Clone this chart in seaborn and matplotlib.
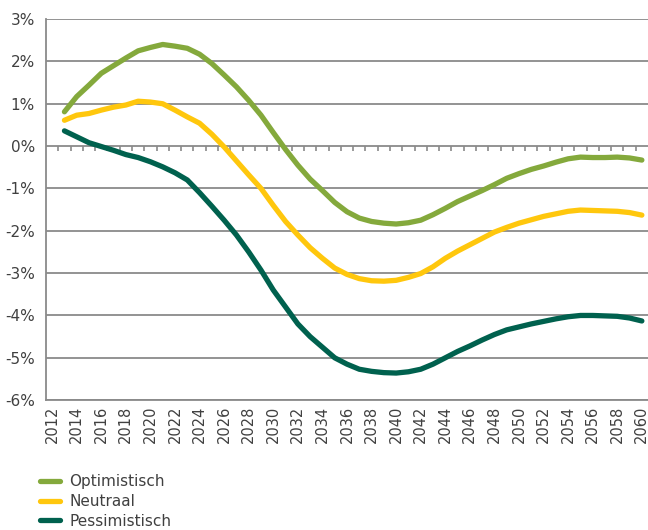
import numpy as np
import pandas as pd
import matplotlib
matplotlib.use("Agg")
import matplotlib.pyplot as plt
import seaborn as sns

years = list(range(2013, 2061))

optimistisch = [0.81, 1.17, 1.44, 1.72, 1.90, 2.08, 2.25, 2.33, 2.40, 2.36,
                2.31, 2.17, 1.95, 1.68, 1.40, 1.08, 0.73, 0.32, -0.08, -0.45,
                -0.78, -1.05, -1.33, -1.55, -1.70, -1.78, -1.82, -1.84, -1.81, -1.75,
                -1.62, -1.47, -1.31, -1.18, -1.05, -0.91, -0.76, -0.65, -0.55, -0.47,
                -0.38, -0.30, -0.26, -0.27, -0.27, -0.26, -0.28, -0.33]

neutraal = [0.61, 0.73, 0.77, 0.85, 0.92, 0.97, 1.06, 1.04, 1.00, 0.85,
            0.69, 0.54, 0.28, -0.02, -0.35, -0.68, -1.00, -1.40, -1.78, -2.10,
            -2.40, -2.65, -2.88, -3.03, -3.13, -3.18, -3.19, -3.17, -3.10, -3.01,
            -2.85, -2.65, -2.48, -2.33, -2.18, -2.03, -1.92, -1.82, -1.74, -1.66,
            -1.60, -1.54, -1.51, -1.52, -1.53, -1.54, -1.57, -1.63]

pessimistisch = [0.36, 0.22, 0.08, -0.01, -0.10, -0.20, -0.27, -0.37, -0.49, -0.63,
                 -0.80, -1.10, -1.42, -1.75, -2.10, -2.50, -2.93, -3.40, -3.80, -4.20,
                 -4.50, -4.75, -5.00, -5.15, -5.27, -5.32, -5.35, -5.36, -5.33, -5.27,
                 -5.15, -5.00, -4.85, -4.72, -4.58, -4.45, -4.34, -4.27, -4.20, -4.14,
                 -4.08, -4.03, -4.00, -4.00, -4.01, -4.02, -4.06, -4.13]

scenarios = ["Optimistisch", "Neutraal", "Pessimistisch"]
colors = ["#84A93C", "#FFC70D", "#00614E"]

df = pd.DataFrame({
    "jaar": years * 3,
    "waarde": optimistisch + neutraal + pessimistisch,
    "scenario": [s for s in scenarios for _ in years],
})

sns.set_style("white")
plt.rcParams["font.family"] = ["Liberation Sans Narrow", "DejaVu Sans"]
text_col = "#404040"
grid_col = "#8a8a8a"

fig = plt.figure(figsize=(6.48, 5.30), dpi=100)
ax = fig.add_axes([0.071, 0.245, 0.929, 0.719])

sns.lineplot(data=df, x="jaar", y="waarde", hue="scenario", palette=colors,
             hue_order=scenarios, linewidth=3.8, ax=ax, legend=True)

ax.set_xlim(2011.5, 2060.5)
ax.set_ylim(-6, 3)
ax.set_yticks(range(-6, 4))
ax.set_yticklabels([f"{v}%" for v in range(-6, 4)], fontsize=11, color=text_col)
ax.set_xticks(range(2012, 2061, 2))
ax.set_xticklabels([str(y) for y in range(2012, 2061, 2)], rotation=90,
                   fontsize=10.5, color=text_col)
ax.tick_params(axis="x", length=0, pad=4)
ax.tick_params(axis="y", length=5, width=1.3, color=grid_col, pad=3)
ax.set_xlabel("")
ax.set_ylabel("")
ax.yaxis.grid(True, color=grid_col, linewidth=1.3)
ax.set_axisbelow(True)
for side in ["top", "right"]:
    ax.spines[side].set_visible(False)
for side in ["left", "bottom"]:
    ax.spines[side].set_color(grid_col)
    ax.spines[side].set_linewidth(1.3)

# kleine streepjes onder de 0%-lijn
sec = ax.secondary_xaxis(6 / 9)
sec.set_xticks(np.arange(2012.5, 2060.5, 1))
sec.set_xticklabels([])
sec.tick_params(length=3.5, width=1.2, color=grid_col, direction="in")
sec.spines["bottom"].set_visible(False)
sec.spines["top"].set_visible(False)

handles, labels = ax.get_legend_handles_labels()
ax.get_legend().remove()
leg = fig.legend(handles, labels, loc="upper left", bbox_to_anchor=(0.062, 0.105),
                 frameon=False, fontsize=11, handlelength=1.3, handletextpad=0.6,
                 labelspacing=0.3, borderpad=0, borderaxespad=0)
for t in leg.get_texts():
    t.set_color(text_col)

fig.savefig("out.png", dpi=100)
